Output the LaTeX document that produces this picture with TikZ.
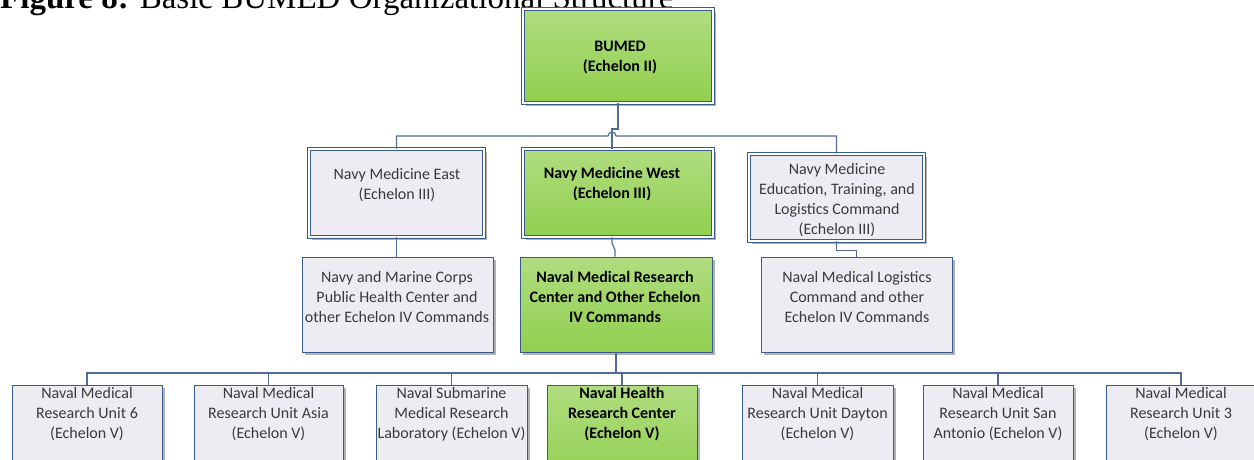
\documentclass[tikz,border=0pt]{standalone}
\usepackage{fontspec}
\setmainfont{Carlito}
\newfontfamily\titlefont{Liberation Serif}
\usetikzlibrary{shadows,calc}
\definecolor{bordc}{RGB}{56,93,138}
\definecolor{linec}{RGB}{79,109,150}
\definecolor{lavc}{RGB}{238,236,243}
\definecolor{gtop}{RGB}{176,221,128}
\definecolor{gbot}{RGB}{144,207,78}
\definecolor{txtc}{RGB}{58,58,58}
\begin{document}
\begin{tikzpicture}[x=1pt,y=-1pt,
  box/.style={rectangle, draw=bordc, line width=0.9pt, inner sep=0pt,
    drop shadow={shadow xshift=3pt, shadow yshift=-3pt, fill=black, opacity=0.3}},
  dbl/.style={double=white, double distance=1.5pt, line width=0.8pt},
  lav/.style={box, fill=lavc},
  grn/.style={box, top color=gtop, bottom color=gbot},
  lbl/.style={font=\fontsize{16}{20}\selectfont, align=center, text=txtc, inner sep=0pt},
  blbl/.style={font=\fontsize{16}{20}\selectfont\bfseries, align=center, text=black, inner sep=0pt},
  conn/.style={draw=linec, line width=1.2pt},
]
\path[use as bounding box, clip] (0,0) rectangle (1254,459);

% title (cut off at the top, as in the reference)
\node[anchor=base west, inner sep=0pt, font=\titlefont\fontsize{33}{36}\selectfont] (title) at (0,8)
  {\textbf{Figure 8:} Basic BUMED Organizational Structure};

% level II
\node[grn, dbl, minimum width=190pt, minimum height=94pt] (bumed) at (618,56) {};
% level III
\node[lav, dbl, minimum width=175pt, minimum height=88pt] (nme) at (396.5,193) {};
\node[grn, dbl, minimum width=190pt, minimum height=88pt] (nmw) at (618,193) {};
\node[lav, dbl, minimum width=175pt, minimum height=87pt] (nmetlc) at (836.5,197.5) {};
% level IV
\node[lav, minimum width=191pt, minimum height=95pt] (nmcphc) at (397.5,304.5) {};
\node[grn, minimum width=192pt, minimum height=95pt] (nmrc) at (616,304.5) {};
\node[lav, minimum width=191pt, minimum height=95pt] (nmlc) at (856.5,304.5) {};
% level V
\node[lav, minimum width=150pt, minimum height=100pt] (u6) at (87,435) {};
\node[lav, minimum width=149pt, minimum height=100pt] (asia) at (268.5,435) {};
\node[lav, minimum width=151pt, minimum height=100pt] (nsmrl) at (451.5,435) {};
\node[grn, minimum width=150pt, minimum height=100pt] (nhrc) at (622,435) {};
\node[lav, minimum width=151pt, minimum height=100pt] (dayton) at (817.5,435) {};
\node[lav, minimum width=150pt, minimum height=100pt] (sa) at (998,435) {};
\node[lav, minimum width=150pt, minimum height=100pt] (u3) at (1181,435) {};

% texts
\node[blbl] (t-bumed) at (620,58) {BUMED\\(Echelon II)};
\node[lbl] (t-nme) at (397,185) {Navy Medicine East\\(Echelon III)};
\node[blbl] (t-nmw) at (612,184) {Navy Medicine West\\(Echelon III)};
\node[lbl] (t-nmetlc) at (837,200) {Navy Medicine\\Education, Training, and\\Logistics Command\\(Echelon III)};
\node[lbl] (t-nmcphc) at (397,297) {Navy and Marine Corps\\Public Health Center and\\other Echelon IV Commands};
\node[blbl] (t-nmrc) at (615,297) {Naval Medical Research\\Center and Other Echelon\\IV Commands};
\node[lbl] (t-nmlc) at (857,297) {Naval Medical Logistics\\Command and other\\Echelon IV Commands};
\node[lbl] (t-u6) at (87,414) {Naval Medical\\Research Unit 6\\(Echelon V)};
\node[lbl] (t-asia) at (268.5,414) {Naval Medical\\Research Unit Asia\\(Echelon V)};
\node[lbl] (t-nsmrl) at (451.5,414) {Naval Submarine\\Medical Research\\Laboratory (Echelon V)};
\node[blbl] (t-nhrc) at (622,414) {Naval Health\\Research Center\\(Echelon V)};
\node[lbl] (t-dayton) at (817.5,414) {Naval Medical\\Research Unit Dayton\\(Echelon V)};
\node[lbl] (t-sa) at (998,414) {Naval Medical\\Research Unit San\\Antonio (Echelon V)};
\node[lbl] (t-u3) at (1181,414) {Naval Medical\\Research Unit 3\\(Echelon V)};

% connectors
\coordinate (j1) at (612,129);
\draw[conn] (bumed.south) |- (j1) -- (j1 |- nmw.north);
\draw[conn] (nme.north) |- (608,136) arc[start angle=180, end angle=0, radius=4pt] -| (nmetlc.north);
\draw[conn] (nme.south) -- (nme.south |- nmcphc.north);
\coordinate (k1) at (612,243);
\coordinate (k2) at (615,250);
\draw[conn] (k1 |- nmw.south) -- (k1) -- (k2) -- (k2 |- nmrc.north);
\draw[conn] (nmetlc.south) -- ++(0,9) -| (nmlc.north);
\coordinate (bus) at (0,373);
\draw[conn] (nmrc.south) -- (nmrc.south |- bus);
\draw[conn] (u6.north) -- (u6.north |- bus) -- (u3.north |- bus) -- (u3.north);
\foreach \n in {asia,nsmrl,nhrc,dayton,sa}
  \draw[conn] (\n.north) -- (\n.north |- bus);
\end{tikzpicture}
\end{document}
